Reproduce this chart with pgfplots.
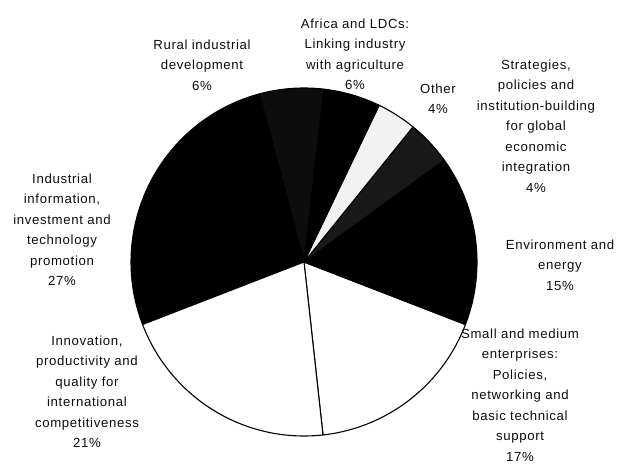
\documentclass[border=0pt]{standalone}
\usepackage{fontspec}
\setmainfont{Liberation Sans}[LetterSpace=5]
\usepackage{pgfplots}
\pgfplotsset{compat=1.18}

% shares of the circle (percent)
\def\sSME{17.4}\def\sEnv{15.8}\def\sStr{4.2}\def\sOth{3.7}
\def\sAfr{5.3}\def\sRur{6.0}\def\sInd{26.7}\def\sInn{20.9}
\pgfmathsetmacro\aA{-83.7}
\pgfmathsetmacro\aB{\aA+3.6*\sSME}
\pgfmathsetmacro\aC{\aB+3.6*\sEnv}
\pgfmathsetmacro\aD{\aC+3.6*\sStr}
\pgfmathsetmacro\aE{\aD+3.6*\sOth}
\pgfmathsetmacro\aF{\aE+3.6*\sAfr}
\pgfmathsetmacro\aG{\aF+3.6*\sRur}
\pgfmathsetmacro\aH{\aG+3.6*\sInd}
\pgfmathsetmacro\aI{\aH+3.6*\sInn}

\newcommand\slice[3]{\addplot[fill=#3, draw=black, line width=1.1pt, line join=round, domain=#1:#2, samples=60] ({304+173*cos(x)},{262-174*sin(x)}) -- (axis cs:304,262) -- cycle;}

\tikzset{lbl/.style={font=\fontsize{13.2}{20.5}\selectfont, align=center, anchor=north, inner sep=0pt, text=black!95}}

\begin{document}
\begin{tikzpicture}
\begin{axis}[name=ax, scale only axis, width=617pt, height=465pt,
  xmin=0, xmax=617, ymin=0, ymax=465, y dir=reverse,
  hide axis, clip=false]
\slice{\aA}{\aB}{white}
\slice{\aB}{\aC}{black}
\slice{\aC}{\aD}{black!90}
\slice{\aD}{\aE}{black!5}
\slice{\aE}{\aF}{black}
\slice{\aF}{\aG}{black!95}
\slice{\aG}{\aH}{black}
\slice{\aH}{\aI}{white}

\node[lbl] at (axis cs:202,39.6) {Rural industrial\\development\\6\%};
\node[lbl] at (axis cs:355,18.6) {Africa and LDCs:\\Linking industry\\with agriculture\\6\%};
\node[lbl, font=\fontsize{13.2}{20}\selectfont] at (axis cs:438,83.6) {Other\\4\%};
\node[lbl] at (axis cs:536,59.6) {Strategies,\\policies and\\institution-building\\for global\\economic\\integration\\4\%};
\node[lbl] at (axis cs:560,239.6) {Environment and\\energy\\15\%};
\node[lbl] at (axis cs:520,328.6) {Small and medium\\enterprises:\\Policies,\\networking and\\basic technical\\support\\17\%};
\node[lbl] at (axis cs:87,335.6) {Innovation,\\productivity and\\quality for\\international\\competitiveness\\21\%};
\node[lbl] at (axis cs:62,173.6) {Industrial\\information,\\investment and\\technology\\promotion\\27\%};
\end{axis}
\pgfresetboundingbox
\path[use as bounding box] (ax.south west) rectangle (ax.north east);
\end{tikzpicture}
\end{document}
